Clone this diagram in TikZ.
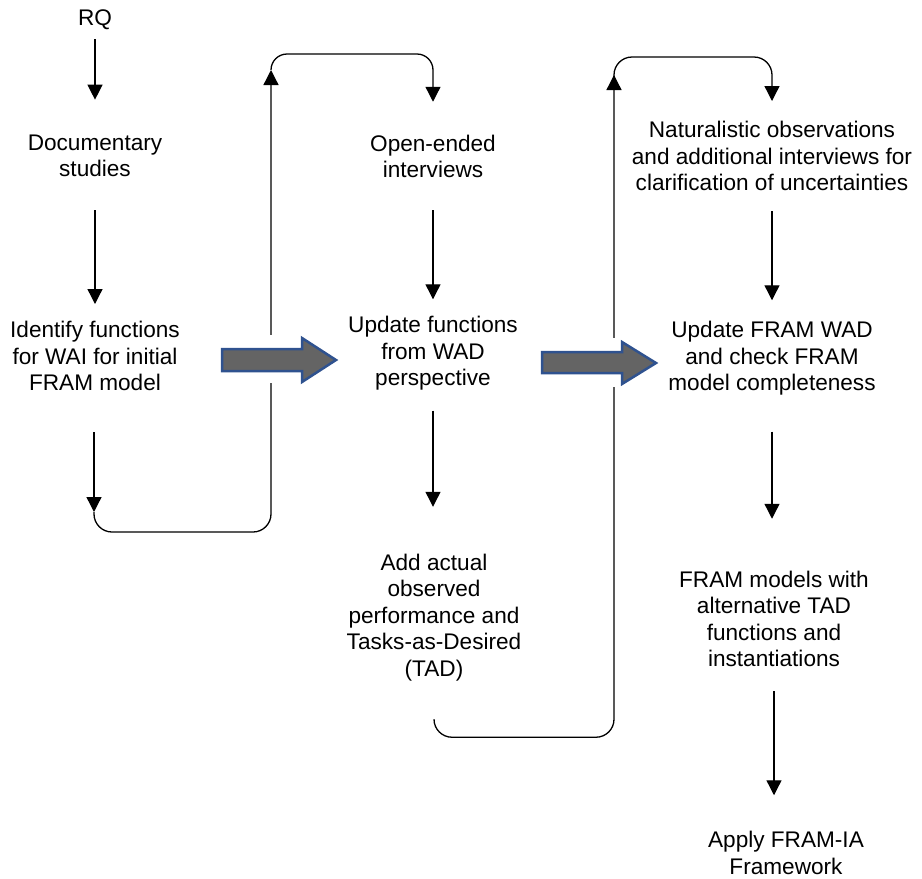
\documentclass[tikz,border=0pt]{standalone}
\usepackage{fontspec}
\setmainfont{Liberation Sans}
\usetikzlibrary{arrows.meta}

\definecolor{blockgray}{RGB}{100,100,100}
\definecolor{blockblue}{RGB}{47,82,143}

\tikzset{
  stage/.style={align=center, inner sep=0pt, font=\fontsize{22.6}{26.5}\selectfont},
  flow/.style={line width=1.3pt, -{Triangle[width=15pt,length=15pt]}},
  loopline/.style={line width=1.3pt, rounded corners=18pt},
  blockarrow/.style={fill=blockgray, draw=blockblue, line width=2.5pt, line join=miter}
}

\begin{document}
\begin{tikzpicture}[x=1pt, y=-1pt]
\useasboundingbox (0,0) rectangle (922,879);

% Column 1: documentary studies
\node[stage] (rq) at (95,20) {RQ};
\node[stage] (doc) at (95,156) {Documentary\\studies};
\node[stage] (ident) at (95,356) {Identify functions\\for WAI for initial\\FRAM model};

% Column 2: interviews
\node[stage] (open) at (433,156.5) {Open-ended\\interviews};
\node[stage] (upd1) at (433,353.5) {Update functions\\from WAD\\perspective};
\node[stage] (add) at (434,617.5) {Add actual\\observed\\performance and\\Tasks-as-Desired\\(TAD)};

% Column 3: observations
\node[stage] (nat) at (772,156) {Naturalistic observations\\and additional interviews for\\clarification of uncertainties};
\node[stage] (upd2) at (772,358.5) {Update FRAM WAD\\and check FRAM\\model completeness};
\node[stage] (models) at (774,619) {FRAM models with\\alternative TAD\\functions and\\instantiations};
\node[stage] (apply) at (786,853) {Apply FRAM-IA\\Framework};

% Arrows inside each column
\draw[flow, shorten <=9pt, shorten >=35pt] (rq.south) -- (rq.south |- doc.north);
\draw[flow, shorten <=33pt, shorten >=17pt] (doc.south) -- (doc.south |- ident.north);
\draw[flow, shorten <=32pt, shorten >=17pt] (open.south) -- (open.south |- upd1.north);
\draw[flow, shorten <=20pt, shorten >=47pt] (upd1.south) -- (upd1.south |- add.north);
\draw[flow, shorten <=20pt, shorten >=21pt] (nat.south) -- (nat.south |- upd2.north);
\draw[flow, shorten <=36pt, shorten >=52pt] (upd2.south) -- (upd2.south |- models.north);
\draw[flow, shorten <=24pt, shorten >=36pt] (models.south) -- (models.south |- apply.north);

% Loop from column 1 to column 2
\coordinate (c1) at (94,512);
\coordinate (c2) at (271,70);
\draw[flow, shorten <=41pt] (ident.south -| c1) -- (c1);
\draw[loopline, flow] (c1) -- ++(0,20) -| (c2);
\draw[loopline, flow, rounded corners=16pt, shorten >=33pt] (c2) -- ++(0,-16) -| (open.north);

% Loop from column 2 to column 3
\coordinate (c3) at ([yshift=-38pt]add.south);
\coordinate (c4) at (614,75);
\draw[loopline] (c3) -- ++(0,18) -| (c4);
\draw[flow] ([yshift=-1pt]c4) -- (c4);
\draw[loopline, flow, shorten >=20pt] (c4) -- ++(0,-18) -| (nat.north);

% Gaps where the loops pass the block arrows
\fill[white] (264,335) rectangle (278,383);
\fill[white] (607,338) rectangle (621,387);

% Block arrows
\draw[blockarrow] (222,349) -- (302,349) -- (302,338) -- (336,360) -- (302,382) -- (302,371) -- (222,371) -- cycle;
\draw[blockarrow] (542,352) -- (622,352) -- (622,342) -- (656,363) -- (622,384) -- (622,373) -- (542,373) -- cycle;

\end{tikzpicture}
\end{document}
